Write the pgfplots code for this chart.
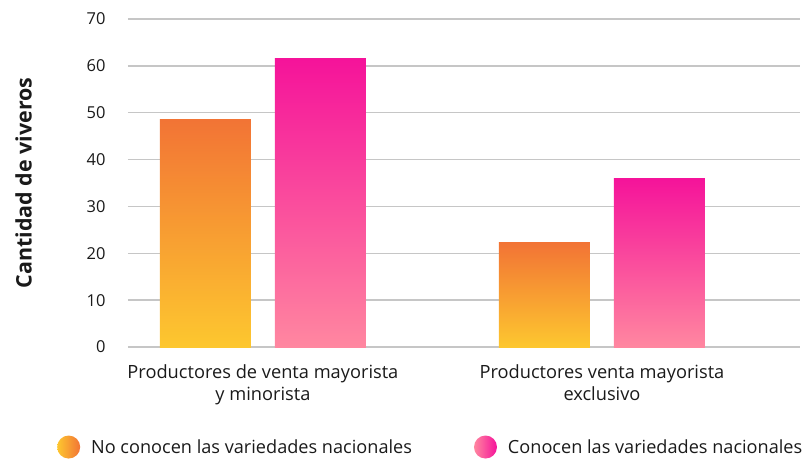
\documentclass[border=0pt]{standalone}
\usepackage{pgfplots}
\pgfplotsset{compat=1.18}
\usepackage{fontspec}
\setmainfont{Open Sans}

\definecolor{orTop}{HTML}{F27435}
\definecolor{orBot}{HTML}{FDC72F}
\definecolor{pkTop}{HTML}{F5139A}
\definecolor{pkBot}{HTML}{FF87A0}
\definecolor{gridgray}{HTML}{C6C6C6}
\definecolor{txt}{HTML}{1A1A1A}

\begin{document}
\begin{tikzpicture}
% page frame
\path (-128bp,-110bp) rectangle (677bp,347bp);
\begin{axis}[
  at={(0,0)}, anchor=south west,
  scale only axis, width=672bp, height=328bp,
  xmin=-0.398, xmax=1.584, ymin=0, ymax=70,
  ytick={0,10,...,70},
  xtick={0,1},
  xticklabels={{Productores de venta mayorista\\y minorista},{Productores venta mayorista\\exclusivo}},
  axis line style={draw=none},
  major tick length=0pt,
  ymajorgrids, major grid style={gridgray, line width=1.3bp},
  tick label style={text=txt},
  yticklabel style={/pgf/number format/assume math mode=true, font=\fontsize{16.5}{19}\selectfont},
  yticklabel shift=19bp,
  xticklabel style={align=center, font=\fontsize{18.3}{22.5}\selectfont},
  xticklabel shift=14bp,
  every axis y label/.style={at={(axis description cs:-0.1555,0.5)}, rotate=90, anchor=center},
  ylabel={Cantidad de viveros},
  ylabel style={font=\bfseries\fontsize{21.5}{24}\selectfont, text=txt},
  ybar, bar width=91bp,
  legend columns=2,
  legend style={at={(axis description cs:-0.1057,-0.305)}, anchor=west, draw=none, fill=none,
    inner xsep=0pt, font=\fontsize{18.2}{21}\selectfont, text=txt,
    /tikz/every even column/.append style={column sep=60bp}},
]
% each bar is its own path so the gradient spans that bar alone
\addplot[draw=none, top color=orTop, bottom color=orBot, bar shift=-57.5bp,
  legend image code/.code={\shade[left color=orBot, right color=orTop] (11.5bp,0) circle (11.5bp);
    \path (23bp,0) -- (32bp,0);}]
  coordinates {(0,48.5)};
\addlegendentry{No conocen las variedades nacionales}
\addplot[draw=none, top color=orTop, bottom color=orBot, bar shift=-57.5bp, forget plot]
  coordinates {(1,22.2)};
\addplot[draw=none, top color=pkTop, bottom color=pkBot, bar shift=57.5bp,
  legend image code/.code={\shade[left color=pkBot, right color=pkTop] (11.5bp,0) circle (11.5bp);
    \path (23bp,0) -- (32bp,0);}]
  coordinates {(0,61.5)};
\addlegendentry{Conocen las variedades nacionales}
\addplot[draw=none, top color=pkTop, bottom color=pkBot, bar shift=57.5bp, forget plot]
  coordinates {(1,36)};
\end{axis}
\end{tikzpicture}
\end{document}
